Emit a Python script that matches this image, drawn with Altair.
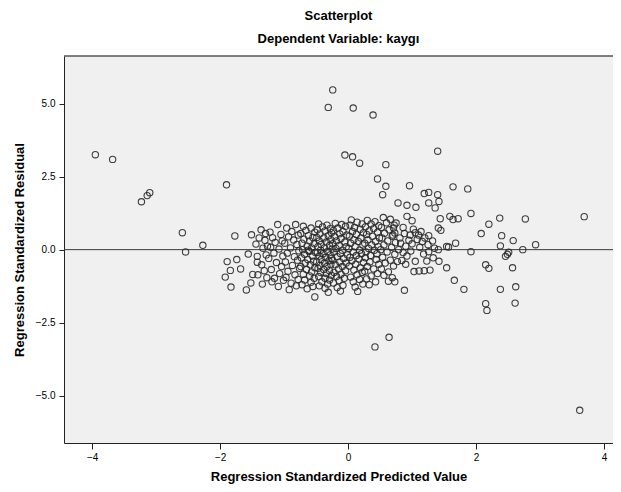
import altair as alt
import pandas as pd

# ---- data (Regression Standardized Predicted Value, Residual) ----
outlier_x = [-3.95, -3.68, -3.23, -3.14, -3.10, -1.90,
             -0.24, -0.31, 0.08, 0.39, 1.40, -0.05, 0.07, 0.18, 0.59, 0.46, 0.59, 0.96, 0.54,
             1.64, 1.87, 1.19, 1.26, 1.40, 1.42, 1.26, 0.78, 0.92, 1.06, 1.36,
             0.42, 0.64, 3.62]
outlier_y = [3.25, 3.09, 1.64, 1.85, 1.95, 2.22,
             5.47, 4.87, 4.85, 4.61, 3.37, 3.24, 3.18, 2.96, 2.91, 2.42, 2.17, 2.19, 1.88,
             2.15, 2.08, 1.92, 1.96, 1.88, 1.65, 1.60, 1.60, 1.52, 1.45, 1.43,
             -3.33, -3.00, -5.50]

left_x = [-2.59, -2.54, -2.27, -1.77, -1.51, -1.44, -1.56, -1.89, -1.74, -1.68, -1.84, -1.92,
          -1.83, -1.49, -1.52, -1.59, -1.42, -1.42, -1.41, -1.39]
left_y = [0.58, -0.08, 0.15, 0.47, 0.51, 0.19, -0.15, -0.41, -0.34, -0.66, -0.71, -0.94,
          -1.28, -0.85, -1.14, -1.38, -0.23, -0.43, -0.86, 0.40]

right_x = [3.69, 2.77, 2.37, 2.20, 2.08, 2.40, 2.58, 2.93, 2.38, 2.73, 2.51, 2.49, 2.46, 1.92,
           2.57, 2.15, 2.20, 1.66, 1.81, 2.38, 2.62, 2.61, 2.15, 2.17, 1.92, 1.68, 1.54, 1.57,
           1.41, 1.54, 1.42, 1.23, 1.28, 1.19, 1.11, 1.03, 1.05, 0.88, 0.73, 0.90, 0.84, 0.77,
           1.44, 1.59, 1.64, 1.72, 1.41, 1.45, 1.26, 1.25, 1.26, 0.92, 1.00, 0.75, 0.71, 0.73, 0.69,
           0.86, 0.88, 0.97, 1.02, 1.05, 1.10, 1.14, 0.95, 1.08, 1.16, 0.82, 0.90, 1.00, 1.12,
           0.79, 0.86, 0.98, 1.18, 0.92, 0.81, 1.20, 1.32, 1.35, 1.33]
right_y = [1.13, 1.05, 1.08, 0.87, 0.55, 0.48, 0.31, 0.17, 0.13, 0.00, -0.09, -0.16, -0.23, -0.07,
           -0.62, -0.52, -0.64, -1.05, -1.36, -1.36, -1.27, -1.83, -1.85, -2.08, 1.24, 0.22, 0.11, 0.09,
           0.00, -0.62, -0.40, -0.39, -0.70, -0.72, -0.73, -0.75, -0.40, -1.39, -1.10, -0.50, -0.37, -0.41,
           1.06, 1.14, 1.03, 1.06, 0.74, 0.66, 0.48, 0.17, -0.07, 1.14, 0.99, 0.91, 0.74, 0.57, 0.46,
           0.76, 0.55, 0.50, 0.70, 0.58, 0.50, 0.62, 0.32, 0.35, 0.28, 0.22, 0.12, 0.20, 0.08,
           0.00, -0.10, -0.05, -0.15, -0.22, 0.40, 0.40, 0.30, 0.05, -0.28]

bottom_x = [-0.92, -1.09, 0.63]
bottom_y = [-1.37, -1.26, -1.08]

cluster_x = [
    # strip A
    -1.36, -1.30, -1.33, -1.28, -1.35, -1.31, -1.27, -1.34, -1.26, -1.29,
    # strip B
    -1.10, -1.22, -1.18, -1.05, -1.14, -1.21, -1.08, -1.16, -1.02, -1.24, -1.12, -1.04, -1.20, -1.07,
    -1.15, -1.01, -1.19, -1.03,
    # strip C
    -0.82, -0.96, -0.88, -0.78, -0.93, -0.85, -0.99, -0.80, -0.90, -0.77, -0.95, -0.84, -0.79, -0.98,
    -0.87, -0.76, -0.94, -0.83, -0.97, -0.78, -0.89, -0.81,
    # strip D
    -0.70, -0.58, -0.66, -0.52, -0.74, -0.62, -0.55, -0.69, -0.60, -0.72, -0.53, -0.64, -0.57, -0.71,
    -0.61, -0.51, -0.68, -0.56, -0.73, -0.63, -0.54, -0.67, -0.59, -0.74, -0.52, -0.65, -0.57, -0.70,
    -0.60, -0.53, -0.68, -0.58, -0.72, -0.55, -0.64, -0.52, -0.62,
    # strip E
    -0.46, -0.33, -0.40, -0.28, -0.48, -0.36, -0.26, -0.44, -0.31, -0.49, -0.38, -0.27, -0.45, -0.34,
    -0.42, -0.29, -0.47, -0.37, -0.25, -0.43, -0.32, -0.48, -0.39, -0.28, -0.45, -0.35, -0.26, -0.42,
    -0.30, -0.49, -0.37, -0.27, -0.44, -0.33, -0.47, -0.38, -0.29, -0.43, -0.34, -0.26, -0.46, -0.36,
    -0.29, -0.41, -0.32, -0.45, -0.36, -0.31,
    # strip F
    -0.20, -0.10, -0.04, -0.16, -0.23, -0.08, -0.13, -0.02, -0.21, -0.11, -0.18, -0.05, -0.24, -0.14,
    -0.03, -0.19, -0.09, -0.22, -0.12, -0.01, -0.17, -0.07, -0.24, -0.13, -0.03, -0.20, -0.09, -0.15,
    -0.04, -0.22, -0.11, -0.18, -0.06, -0.14, -0.23, -0.08, -0.17, -0.12,
    # strip G
    0.05, 0.14, 0.22, 0.03, 0.10, 0.19, 0.07, 0.24, 0.13, 0.02, 0.20, 0.09, 0.16, 0.04, 0.23, 0.11,
    0.01, 0.18, 0.08, 0.21, 0.13, 0.03, 0.17, 0.06, 0.24, 0.12, 0.02, 0.19, 0.09, 0.22, 0.14, 0.04,
    0.18, 0.08, 0.23, 0.11, 0.15,
    # strip H
    0.30, 0.42, 0.36, 0.48, 0.27, 0.40, 0.33, 0.46, 0.29, 0.38, 0.49, 0.31, 0.43, 0.26, 0.37, 0.47,
    0.32, 0.41, 0.28, 0.45, 0.35, 0.27, 0.44, 0.34, 0.48, 0.30, 0.40, 0.26, 0.46, 0.36, 0.29, 0.43, 0.33,
    # strip I
    0.55, 0.66, 0.60, 0.72, 0.52, 0.64, 0.57, 0.70, 0.53, 0.62, 0.74, 0.56, 0.68, 0.51, 0.61, 0.73,
    0.54, 0.66, 0.58, 0.71, 0.52, 0.63, 0.56, 0.69,
]
cluster_y = [
    # strip A
    0.68, 0.32, 0.05, -0.18, -0.52, -0.72, -0.96, -1.18, 0.12, 0.55,
    # strip B
    0.86, 0.60, 0.41, 0.52, 0.25, 0.08, 0.02, -0.12, -0.22, -0.30, -0.44, -0.58, -0.68, -0.82,
    -0.98, -1.05, -1.10, 0.30,
    # strip C
    0.86, 0.74, 0.62, 0.50, 0.44, 0.33, 0.22, 0.18, 0.06, -0.04, -0.12, -0.24, -0.36, -0.42,
    -0.54, -0.64, -0.74, -0.86, -0.95, -1.02, -1.15, -1.24,
    # strip D
    0.80, 0.74, 0.66, 0.60, 0.55, 0.48, 0.42, 0.36, 0.30, 0.22, 0.20, 0.12, 0.06, 0.00,
    -0.06, -0.10, -0.16, -0.22, -0.28, -0.34, -0.40, -0.46, -0.52, -0.58, -0.62, -0.68, -0.76, -0.84,
    -0.90, -0.98, -1.04, -1.12, -1.20, -1.26, -1.34, -1.62, -0.02,
    # strip E
    0.88, 0.84, 0.78, 0.72, 0.68, 0.64, 0.58, 0.54, 0.48, 0.42, 0.40, 0.34, 0.30, 0.26,
    0.18, 0.14, 0.10, 0.06, 0.02, -0.02, -0.06, -0.10, -0.14, -0.18, -0.22, -0.26, -0.30, -0.34,
    -0.38, -0.42, -0.46, -0.50, -0.54, -0.58, -0.64, -0.68, -0.72, -0.78, -0.82, -0.88, -0.92, -0.98,
    -1.04, -1.10, -1.18, -1.24, -1.32, -1.46,
    # strip F
    0.90, 0.86, 0.80, 0.74, 0.66, 0.62, 0.54, 0.50, 0.44, 0.38, 0.30, 0.26, 0.20, 0.14,
    0.10, 0.04, -0.02, -0.08, -0.14, -0.18, -0.24, -0.30, -0.36, -0.42, -0.46, -0.52, -0.58, -0.66,
    -0.72, -0.78, -0.84, -0.92, -0.98, -1.06, -1.14, -1.22, -1.30, -1.42,
    # strip G
    1.02, 0.94, 0.88, 0.84, 0.76, 0.70, 0.62, 0.58, 0.52, 0.46, 0.40, 0.34, 0.28, 0.22, 0.16, 0.10,
    0.04, -0.02, -0.08, -0.14, -0.20, -0.26, -0.32, -0.38, -0.44, -0.50, -0.56, -0.62, -0.70, -0.78,
    -0.86, -0.94, -1.02, -1.10, -1.18, -1.28, -1.43,
    # strip H
    1.00, 0.96, 0.88, 0.82, 0.78, 0.72, 0.64, 0.60, 0.52, 0.46, 0.40, 0.34, 0.28, 0.22, 0.16, 0.10,
    0.04, -0.02, -0.08, -0.14, -0.20, -0.28, -0.34, -0.42, -0.50, -0.58, -0.66, -0.74, -0.82, -0.90,
    -1.00, -1.10, -1.20,
    # strip I
    1.10, 1.04, 0.92, 0.84, 0.76, 0.68, 0.56, 0.50, 0.40, 0.30, 0.24, 0.16, 0.08, 0.00, -0.08, -0.16,
    -0.26, -0.36, -0.46, -0.56, -0.66, -0.76, -0.88, -0.96,
]

x_ticks = [-4, -2, 0, 2, 4]
y_ticks = [-5.0, -2.5, 0.0, 2.5, 5.0]
x_domain = [-4.44, 4.14]
y_domain = [-6.62, 6.63]

xs = outlier_x + left_x + right_x + bottom_x + cluster_x
ys = outlier_y + left_y + right_y + bottom_y + cluster_y
df = pd.DataFrame({"pred": xs, "resid": ys})
zero_df = pd.DataFrame({"resid": [0.0]})

W, H = 549, 387
FONT = "Liberation Sans"

x_enc = alt.X("pred:Q", scale=alt.Scale(domain=x_domain, nice=False, zero=False),
              axis=alt.Axis(values=x_ticks, format="d",
                            title="Regression Standardized Predicted Value"))
y_enc = alt.Y("resid:Q", scale=alt.Scale(domain=y_domain, nice=False, zero=False),
              axis=alt.Axis(values=y_ticks, format=".1f",
                            title="Regression Standardized Residual"))

zero_line = alt.Chart(zero_df).mark_rule(color="#3a3a3a", strokeWidth=1).encode(y=alt.Y("resid:Q"))

top_border = alt.Chart(zero_df).mark_rule(color="#555555", strokeWidth=1.5).encode(
    x=alt.value(0), x2=alt.value(W), y=alt.value(0)
)

points = alt.Chart(df).mark_point(
    shape="circle", filled=False, size=40, color="#2a2a2a", strokeWidth=1.1, opacity=0.9
).encode(x=x_enc, y=y_enc)

chart = (
    alt.layer(zero_line, top_border, points)
    .properties(
        width=W,
        height=H,
        autosize=alt.AutoSizeParams(type="none"),
        padding={"left": 56, "top": 48, "right": 0, "bottom": 41},
        title=alt.TitleParams(
            text="Scatterplot",
            subtitle="Dependent Variable: kaygı",
            anchor="middle",
            font=FONT, fontSize=13, fontWeight="bold", color="#000000",
            subtitleFont=FONT, subtitleFontSize=13, subtitleFontWeight="bold",
            subtitleColor="#000000", subtitlePadding=10, offset=9,
        ),
    )
    .configure_view(fill="#F0F0F0", stroke=None)
    .configure_axis(
        domainColor="#222222", domainWidth=1, tickColor="#222222", tickSize=5, ticks=True,
        grid=False, labelFont=FONT, labelFontSize=10, labelColor="#000000",
        titleFont=FONT, titleFontSize=13, titleFontWeight="bold", titleColor="#000000",
    )
    .configure_axisX(labelPadding=3, titlePadding=8, tickSize=6)
    .configure_axisY(labelPadding=4, titlePadding=9)
)

chart.save("out.html", embed_options={"renderer": "svg", "actions": False})
